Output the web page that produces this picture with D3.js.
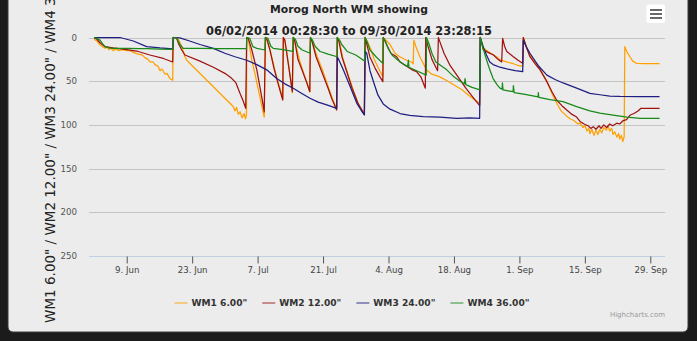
<!DOCTYPE html>
<html><head><meta charset="utf-8">
<script src="https://cdn.jsdelivr.net/npm/d3@7"></script>
<style>
html,body{margin:0;padding:0;background:#1b1b1b;overflow:hidden;}
svg{display:block;}
</style></head><body>
<svg id="chart" width="697" height="341"></svg>
<script>
const titleText = "Morog North WM showing";
const subtitleText = "06/02/2014 00:28:30 to 09/30/2014 23:28:15";
const yAxisTitle = 'WM1 6.00" / WM2 12.00" / WM3 24.00" / WM4 36.00"';
const seriesNames = ['WM1 6.00"', 'WM2 12.00"', 'WM3 24.00"', 'WM4 36.00"'];
const seriesColors = ["#ffa000", "#a01212", "#1e1e82", "#178a17"];
const yTickValues = [0, 50, 100, 150, 200, 250];
const xTickDates = ["06-09", "06-23", "07-07", "07-21", "08-04", "08-18", "09-01", "09-15", "09-29"];
const xDomain = ["05-31 22:28", "10-02 03:27"];

const wm1 = [
["06-02 00:28",2],["06-02 15:00",4],["06-03 07:00",8.6],["06-03 17:00",10],["06-04 09:00",12.4],["06-04 19:00",11],
["06-05 05:00",14],["06-05 15:00",12],["06-06 02:00",15],["06-06 17:00",13],["06-07 08:00",15],["06-08 00:00",14],
["06-09 00:00",15],["06-09 17:00",15],["06-10 10:00",17],["06-11 11:00",19],["06-12 07:00",20],["06-12 22:00",23],
["06-13 13:00",25],["06-13 23:00",28],["06-14 15:00",28],["06-15 01:00",31],["06-15 17:00",33],["06-16 03:00",38],
["06-16 13:00",36],["06-17 05:00",42],["06-17 15:00",41],["06-18 06:00",47],["06-18 20:00",49],["06-18 23:00",0],
["06-19 23:00",1],["06-20 18:00",10],["06-21 11:00",22],["06-21 20:00",26],["07-01 19:00",79],["07-02 04:00",84],
["07-02 12:00",80],["07-02 21:00",88],["07-03 06:00",85],["07-03 16:00",92],["07-04 02:00",87],["07-04 10:00",93],
["07-04 15:00",88],["07-04 16:00",0],["07-05 00:00",1],["07-05 18:00",26],["07-06 10:00",41],["07-07 02:00",58],
["07-07 12:00",68],["07-08 02:00",83],["07-08 10:00",91],["07-08 16:00",0],["07-09 00:00",3],["07-09 16:00",14],
["07-10 12:00",33],["07-11 08:00",50],["07-12 00:00",62],["07-12 10:00",70],["07-12 12:00",0],["07-12 20:00",4],
["07-13 09:00",22],["07-13 22:00",42],["07-14 11:00",63],["07-14 15:00",0],["07-15 05:00",10],["07-16 02:00",28],
["07-17 03:00",45],["07-18 04:00",62],["07-18 07:00",0],["07-18 21:00",8],["07-19 18:00",22],["07-20 19:00",36],
["07-21 20:00",52],["07-22 21:00",68],["07-23 22:00",82],["07-24 01:00",0],["07-24 13:00",6],["07-25 06:00",24],
["07-26 08:00",42],["07-27 14:00",62],["07-28 16:00",78],["07-29 21:00",88],["07-30 00:00",0],["07-30 15:00",6],
["07-31 06:00",14],["07-31 21:00",24],["08-01 18:00",34],["08-02 19:00",45],["08-02 21:00",0],["08-03 11:00",3],
["08-04 08:00",8],["08-05 09:00",18],["08-06 10:00",22],["08-07 21:00",26],["08-08 22:00",28],["08-09 07:00",30],
["08-09 10:00",3],["08-09 20:00",10],["08-10 17:00",22],["08-12 03:00",37],["08-13 06:00",42],["08-15 00:00",45],
["08-16 17:00",50],["08-18 05:00",55],["08-19 19:00",60],["08-21 03:00",66],["08-22 08:00",71],["08-23 12:00",75],
["08-23 15:00",0],["08-24 07:00",12],["08-25 20:00",18],["08-27 03:00",22],["08-27 20:00",25.7],["08-29 07:00",28],
["08-30 17:00",30],["08-31 17:00",32],["09-01 17:00",33],["09-01 20:00",0],["09-02 15:00",12],["09-03 06:00",20],
["09-04 08:00",28],["09-05 10:00",36],["09-06 21:00",50],["09-07 23:00",64],["09-08 23:00",75],["09-09 22:00",84],
["09-11 03:00",90],["09-11 20:00",93],["09-12 16:00",95],["09-13 13:00",99],["09-13 23:00",98],["09-14 15:00",103],
["09-15 01:00",101],["09-15 11:00",107],["09-15 21:00",104],["09-16 02:00",110],["09-16 12:00",105],["09-16 23:00",112],
["09-17 09:00",106],["09-17 19:00",111],["09-18 05:00",105],["09-18 15:00",109],["09-19 01:00",103],["09-19 15:00",106],
["09-19 22:00",101],["09-20 08:00",107],["09-20 18:00",104],["09-21 01:00",111],["09-21 10:00",108],["09-21 20:00",114],
["09-22 06:00",110],["09-22 11:00",116],["09-22 19:00",112],["09-23 03:00",119],["09-23 10:00",113],["09-23 13:00",10.5],
["09-23 23:00",16],["09-24 15:00",22],["09-25 06:00",27],["09-26 01:00",29.5],["09-27 19:00",30],["09-30 23:28",30]
];

const wm2 = [
["06-02 00:28",0],["06-02 15:00",2],["06-03 07:00",6],["06-04 09:00",10.5],["06-06 02:00",12],["06-09 00:00",14],
["06-11 11:00",16],["06-13 23:00",20],["06-16 20:00",24],["06-18 20:00",28],["06-18 23:00",0],["06-19 16:00",0.5],
["06-20 04:00",8],["06-20 18:00",14],["06-21 11:00",20],["06-24 16:00",27],["06-27 13:00",34],["06-30 00:00",41],
["07-01 11:00",46.7],["07-02 09:00",52],["07-03 06:00",64],["07-03 21:00",72],["07-04 11:00",81],["07-04 16:00",0],
["07-05 00:00",1],["07-05 18:00",14],["07-06 20:00",37],["07-07 21:00",68],["07-08 10:00",85],["07-08 16:00",0],
["07-09 00:00",2],["07-09 16:00",15],["07-10 12:00",35],["07-11 08:00",52],["07-12 09:00",71.5],["07-12 12:00",0],
["07-12 20:00",3],["07-13 07:00",20],["07-13 20:00",40],["07-14 10:00",62],["07-14 15:00",0],["07-15 00:00",5],
["07-15 15:00",25],["07-16 17:00",40],["07-17 13:00",52],["07-18 04:00",62],["07-18 07:00",0],["07-18 15:00",4],
["07-19 12:00",22],["07-20 19:00",40],["07-22 02:00",58],["07-22 21:00",70],["07-23 22:00",83],["07-24 01:00",0],
["07-24 10:00",5],["07-25 01:00",22],["07-26 03:00",40],["07-27 05:00",58],["07-28 11:00",75],["07-29 20:00",88],
["07-30 00:00",0],["07-30 09:00",8],["07-31 00:00",22],["08-01 03:00",35],["08-02 04:00",45],["08-02 19:00",50.5],
["08-02 21:00",0],["08-03 14:00",8],["08-04 12:00",18],["08-05 18:00",22],["08-06 11:00",28],["08-07 21:00",33],
["08-09 01:00",37],["08-10 00:00",39],["08-10 22:00",45],["08-11 21:00",58],["08-11 23:00",0],["08-12 11:00",10],
["08-13 07:00",25],["08-14 12:00",38],["08-14 16:00",0],["08-15 00:00",5],["08-15 21:00",18],["08-17 04:00",32],
["08-18 21:00",45],["08-20 13:00",58],["08-22 07:00",70],["08-23 12:00",78],["08-23 15:00",0],["08-24 07:00",14],
["08-25 07:00",17],["08-26 11:00",20],["08-27 10:00",25],["08-28 05:00",28],["08-28 10:00",1],["08-28 20:00",10],
["08-29 07:00",16],["08-30 17:00",22],["08-31 17:00",26],["09-01 17:00",29.5],["09-01 20:00",0],["09-02 10:00",10],
["09-03 06:00",22],["09-04 08:00",30],["09-05 10:00",37],["09-06 21:00",50.5],["09-07 23:00",62],["09-08 23:00",71.5],
["09-10 02:00",78],["09-11 03:00",83],["09-12 06:00",88],["09-13 06:00",91],["09-13 23:00",96],["09-14 20:00",99],
["09-15 16:00",101],["09-16 07:00",104],["09-16 19:00",102],["09-17 09:00",105],["09-18 01:00",101],["09-18 11:00",104],
["09-19 01:00",100],["09-19 16:00",103],["09-20 08:00",99],["09-20 23:00",101],["09-21 20:00",98],["09-22 11:00",99],
["09-23 05:00",95],["09-23 22:00",94],["09-24 15:00",89],["09-25 12:00",87],["09-26 09:00",84],["09-27 00:00",81],
["09-27 21:00",81],["09-30 23:28",81]
];

const wm3 = [
["06-02 00:28",0],["06-07 14:00",0],["06-10 10:00",4],["06-13 06:00",10.5],["06-16 03:00",12],["06-18 20:00",13],
["06-18 23:00",0],["06-20 09:00",0.5],["06-22 11:00",4],["06-24 16:00",8],["06-27 13:00",12.4],["06-30 00:00",18],
["07-02 04:00",22],["07-04 16:00",26],["07-06 20:00",31],["07-08 23:00",37],["07-11 02:00",47],["07-12 20:00",53],
["07-14 15:00",58],["07-16 11:00",64],["07-18 05:00",69.5],["07-19 23:00",74],["07-21 19:00",77],["07-22 21:00",79],
["07-23 22:00",81],["07-24 01:00",22],["07-24 10:00",26],["07-25 08:00",37],["07-26 19:00",56],["07-28 05:00",75],
["07-29 03:00",83],["07-29 20:00",88.7],["07-30 00:00",16],["07-30 08:00",18],["07-31 01:00",38],["07-31 18:00",50],
["08-01 18:00",66],["08-02 21:00",76],["08-04 08:00",82],["08-06 11:00",87],["08-08 13:00",89],["08-11 10:00",90.6],
["08-15 00:00",91],["08-18 14:00",92.5],["08-21 10:00",92],["08-23 12:00",92.5],["08-23 15:00",0],["08-24 07:00",11],
["08-24 23:00",20],["08-25 16:00",28],["08-26 09:00",31],["08-27 20:00",34],["08-29 07:00",36],["08-31 02:00",38],
["09-01 17:00",39],["09-01 20:00",3],["09-02 10:00",10],["09-03 06:00",18],["09-05 00:00",32],["09-06 21:00",43],
["09-08 15:00",48],["09-10 08:00",52],["09-13 06:00",58],["09-16 02:00",64],["09-18 05:00",65.5],["09-20 08:00",67],
["09-22 11:00",67.5],["09-26 18:00",67.7],["09-30 23:28",67.7]
];

const wm4 = [
["06-02 00:28",0],["06-02 15:00",1],["06-03 07:00",3],["06-03 23:00",8],["06-04 09:00",10.5],["06-05 05:00",12],
["06-06 03:00",12.4],["06-09 08:00",12.4],["06-11 20:00",12.8],["06-13 06:00",12.6],["06-16 03:00",13.2],["06-18 20:00",13.5],
["06-18 23:00",0],["06-19 16:00",0.5],["06-20 09:00",8],["06-21 02:00",12.4],["06-24 16:00",12.4],["06-28 23:00",12.8],
["07-04 15:00",12.8],["07-04 16:00",0],["07-05 08:00",1],["07-06 00:00",10.5],["07-06 20:00",12.4],["07-08 14:00",14.3],
["07-08 16:00",0],["07-09 05:00",1],["07-09 20:00",10],["07-10 08:00",12.4],["07-12 10:00",14],["07-14 14:00",16],
["07-14 15:00",0],["07-15 02:00",2],["07-15 15:00",10],["07-16 11:00",14],["07-18 05:00",18],["07-18 08:00",0],
["07-18 18:00",3],["07-19 07:00",10],["07-20 09:00",16],["07-22 02:00",19],["07-24 00:00",22],["07-24 01:00",0],
["07-24 13:00",3],["07-25 00:00",8],["07-26 04:00",16],["07-28 00:00",20],["07-29 21:00",27],["07-30 00:00",0],
["07-30 09:00",4],["07-31 00:00",14],["08-01 08:00",22],["08-02 19:00",29.6],["08-02 21:00",0],["08-03 08:00",4],
["08-03 21:00",12],["08-04 18:00",20],["08-06 01:00",26],["08-07 08:00",31],["08-08 02:00",33],["08-08 06:00",26],
["08-08 09:00",34],["08-10 00:00",38],["08-12 02:00",43],["08-12 03:00",0],["08-12 14:00",6],["08-13 07:00",18],
["08-14 03:00",28],["08-16 11:00",37],["08-18 00:00",45],["08-19 07:00",50],["08-20 06:00",53],["08-20 09:00",47],
["08-20 13:00",54],["08-21 21:00",57],["08-23 13:00",60],["08-23 15:00",0],["08-24 05:00",12],["08-25 00:00",26],
["08-25 16:00",37],["08-26 09:00",47],["08-27 05:00",54],["08-27 20:00",58],["08-28 07:00",59],["08-28 09:00",52],
["08-28 12:00",60],["08-29 14:00",61],["08-30 16:00",62],["08-30 17:00",55],["08-30 21:00",63],["09-02 05:00",65],
["09-05 00:00",68],["09-05 01:00",63],["09-05 04:00",68.5],["09-07 13:00",71],["09-10 08:00",73.4],["09-13 06:00",79],
["09-16 02:00",84],["09-18 05:00",86.5],["09-21 01:00",88.7],["09-24 00:00",91],["09-26 20:00",92.5],["09-30 23:28",92.5]
];

const seriesData = [wm1, wm2, wm3, wm4];

const parseT = d3.utcParse("%Y-%m-%d %H:%M");
const parseDay = d3.utcParse("%Y-%m-%d");
const toDate = s => parseT("2014-" + s);

const svg = d3.select("#chart");
const W = 697, H = 341;
const plot = {left: 89, right: 665, top: 37.5, bottom: 256};
const FONT = "'DejaVu Sans', Verdana, sans-serif";

// background panel
svg.append("rect").attr("x", 0).attr("y", 0).attr("width", W).attr("height", H).attr("fill", "#1b1b1b");
svg.append("rect").attr("x", 8).attr("y", -10).attr("width", 680).attr("height", 342)
  .attr("rx", 5).attr("fill", "#ececec").attr("stroke", "#3a3a3a").attr("stroke-width", 1);

const x = d3.scaleUtc().domain(xDomain.map(toDate)).range([plot.left, plot.right]);
const y = d3.scaleLinear().domain([0, 250]).range([plot.top, plot.bottom]);

// gridlines
svg.append("g").selectAll("line").data(yTickValues.filter(v => v < 250)).join("line")
  .attr("x1", plot.left).attr("x2", plot.right)
  .attr("y1", d => Math.round(y(d)) + 0.5).attr("y2", d => Math.round(y(d)) + 0.5)
  .attr("stroke", "#c4c4c4").attr("stroke-width", 1);

// y labels
svg.append("g").selectAll("text").data(yTickValues).join("text")
  .attr("x", 77).attr("y", d => y(d) + 3)
  .attr("text-anchor", "end")
  .style("font-family", FONT).style("font-size", "8.7px")
  .attr("fill", "#555").text(d => d);

// x axis
const xTicks = xTickDates.map(s => parseDay("2014-" + s));
const xAxis = d3.axisBottom(x).tickValues(xTicks).tickFormat(d3.utcFormat("%-d. %b")).tickSize(7).tickPadding(3);
const gx = svg.append("g").attr("transform", `translate(0,${Math.round(plot.bottom) + 0.5})`).call(xAxis);
gx.select(".domain").attr("stroke", "#c0d0e0").attr("d", `M${plot.left},0H${plot.right}`);
gx.selectAll(".tick line").attr("stroke", "#555");
gx.selectAll(".tick text").style("font-family", FONT)
  .style("font-size", "8.6px").attr("fill", "#444");

// series lines
const line = d3.line().x(d => x(toDate(d[0]))).y(d => y(d[1]));
seriesData.forEach((data, i) => {
  svg.append("path").datum(data).attr("d", line)
    .attr("fill", "none").attr("stroke", seriesColors[i]).attr("stroke-width", 1.25)
    .attr("stroke-linejoin", "round");
});

// titles
svg.append("text").attr("x", 349).attr("y", 13.3).attr("text-anchor", "middle")
  .style("font-family", FONT).style("font-size", "10.8px").style("font-weight", "bold")
  .attr("fill", "#222").text(titleText);
svg.append("text").attr("x", 349).attr("y", 35).attr("text-anchor", "middle")
  .style("font-family", FONT).style("font-size", "11.4px").style("font-weight", "bold")
  .attr("fill", "#222").text(subtitleText);

svg.append("text").attr("transform", `translate(55,142) rotate(-90)`)
  .attr("text-anchor", "middle")
  .style("font-family", FONT).style("font-size", "13.5px")
  .attr("fill", "#222").text(yAxisTitle);

// legend
const legend = svg.append("g");
let cx = 0;
seriesNames.forEach((name, i) => {
  const g = legend.append("g").attr("transform", `translate(${cx},0)`);
  g.append("line").attr("x1", 0).attr("x2", 13).attr("y1", 0).attr("y2", 0)
    .attr("stroke", seriesColors[i]).attr("stroke-width", 1.5).attr("stroke-opacity", 0.6);
  const t = g.append("text").attr("x", 17).attr("y", 3.4)
    .style("font-family", FONT).style("font-size", "9.1px").style("font-weight", "bold")
    .attr("fill", "#333").text(name);
  cx += 17 + t.node().getComputedTextLength() + 15;
});
const legendW = cx - 15;
legend.attr("transform", `translate(${352 - legendW / 2},303)`);

// credits
svg.append("text").attr("x", 665).attr("y", 317).attr("text-anchor", "end")
  .style("font-family", FONT).style("font-size", "7px")
  .attr("fill", "#999").text("Highcharts.com");

// menu button
const mb = svg.append("g");
mb.append("rect").attr("x", 646.5).attr("y", 4.5).attr("width", 18.5).attr("height", 18.5).attr("rx", 2).attr("fill", "#fff");
[10, 14, 18].forEach(yy => mb.append("line").attr("x1", 650).attr("x2", 662).attr("y1", yy).attr("y2", yy)
  .attr("stroke", "#666").attr("stroke-width", 2));
</script>
</body></html>
